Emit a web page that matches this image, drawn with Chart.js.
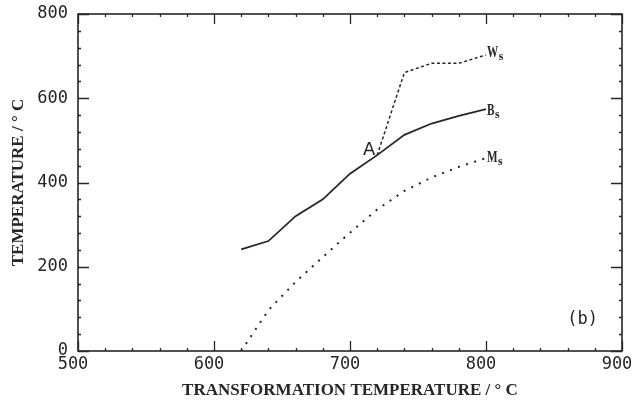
<!DOCTYPE html>
<html>
<head>
<meta charset="utf-8">
<script src="https://cdn.jsdelivr.net/npm/chart.js@4.4.1/dist/chart.umd.min.js"></script>
<style>
  html, body { margin: 0; padding: 0; background: #fff; }
  #wrap { width: 633px; height: 405px; position: relative; }
</style>
</head>
<body>
<div id="wrap"><canvas id="c"></canvas></div>
<script>
// Transformation temperature (°C) and the start temperatures of each product (°C)
const transformTemps  = [620, 640, 660, 680, 700, 720, 740, 760, 780, 800];
const bainiteStart    = [241, 261, 320, 360, 421, 465, 513, 540, 558, 574];
const martensiteStart = [0, 97, 164, 223, 281, 336, 380, 412, 437, 458];
const widmanTemps     = [720, 740, 760, 780, 800];
const widmanStart     = [465, 661, 683, 683, 703];

const xTicks = [500, 600, 700, 800, 900];
const yTicks = [0, 200, 400, 600, 800];

const seriesLabels = ['W', 'B', 'M'];   // drawn with subscript "s"
const pointLabel = 'A';
const panelLabel = '(b)';

const ink = '#262626';
const monoFont = 'DejaVu Sans Mono';
const serifFont = 'Liberation Serif';

const toPoints = (xs, ys) => xs.map((x, i) => ({ x, y: ys[i] }));

// Boxed frame with inward major/minor ticks on all four sides
const framePlugin = {
  id: 'frame',
  afterDatasetsDraw(chart) {
    const { ctx, chartArea: a, scales: { x, y } } = chart;
    ctx.save();
    ctx.strokeStyle = ink;
    ctx.lineWidth = 1.6;
    ctx.strokeRect(a.left, a.top, a.right - a.left, a.bottom - a.top);
    ctx.lineWidth = 1.3;
    ctx.beginPath();
    for (let v = x.min; v <= x.max + 1e-6; v += 20) {
      const px = Math.round(x.getPixelForValue(v)) + 0.5;
      const len = (v % 100 === 0) ? 10 : 3;
      ctx.moveTo(px, a.bottom); ctx.lineTo(px, a.bottom - len);
      ctx.moveTo(px, a.top);    ctx.lineTo(px, a.top + len);
    }
    for (let v = y.min; v <= y.max + 1e-6; v += 40) {
      const py = Math.round(y.getPixelForValue(v)) + 0.5;
      const len = (v % 200 === 0) ? 11 : 3;
      ctx.moveTo(a.left, py);  ctx.lineTo(a.left + len, py);
      ctx.moveTo(a.right, py); ctx.lineTo(a.right - len, py);
    }
    ctx.stroke();

    // x tick labels, set slightly left of their ticks
    ctx.fillStyle = ink;
    ctx.font = '17px "' + monoFont + '"';
    ctx.textAlign = 'center';
    ctx.textBaseline = 'top';
    x.ticks.forEach(t => {
      ctx.fillText(String(t.value), x.getPixelForValue(t.value) - 5, a.bottom + 5);
    });
    ctx.restore();
  }
};

// Curve names at the end of each curve, the point "A" and the panel tag
const labelPlugin = {
  id: 'curveLabels',
  afterDraw(chart) {
    const { ctx, chartArea: a, scales: { x, y } } = chart;
    const lift = [2, 6, 4];
    ctx.save();
    ctx.fillStyle = ink;
    ctx.textBaseline = 'alphabetic';
    ctx.textAlign = 'left';
    chart.data.datasets.forEach((ds, i) => {
      const last = ds.data[ds.data.length - 1];
      const px = x.getPixelForValue(last.x) + 1;
      const py = y.getPixelForValue(last.y) + lift[i];
      const letter = seriesLabels[i];
      ctx.save();
      ctx.translate(px, py);
      ctx.scale(0.7, 1);
      ctx.font = 'bold 16px "' + serifFont + '"';
      ctx.fillText(letter, 0, 0);
      const w = ctx.measureText(letter).width * 0.7;
      ctx.restore();
      ctx.save();
      ctx.translate(px + w + 0.5, py + 3);
      ctx.scale(0.9, 1);
      ctx.font = 'bold 13px "' + serifFont + '"';
      ctx.fillText('s', 0, 0);
      ctx.restore();
    });
    // "A" marks where the Widmanstätten curve leaves the bainite curve
    const start = chart.data.datasets[0].data[0];
    ctx.font = '18px "DejaVu Sans"';
    ctx.textAlign = 'right';
    ctx.fillText(pointLabel, x.getPixelForValue(start.x) - 2, y.getPixelForValue(start.y));
    // panel tag
    ctx.font = '17px "' + monoFont + '"';
    ctx.textAlign = 'right';
    ctx.fillText(panelLabel, a.right - 24, a.bottom - 27);
    ctx.restore();
  }
};

new Chart(document.getElementById('c'), {
  type: 'scatter',
  data: {
    datasets: [
      {
        label: 'Ws',
        data: toPoints(widmanTemps, widmanStart),
        showLine: true, borderColor: ink, borderWidth: 1.5,
        borderDash: [3, 2.5], pointRadius: 0, tension: 0
      },
      {
        label: 'Bs',
        data: toPoints(transformTemps, bainiteStart),
        showLine: true, borderColor: ink, borderWidth: 1.8,
        pointRadius: 0, tension: 0
      },
      {
        label: 'Ms',
        data: toPoints(transformTemps, martensiteStart),
        showLine: true, borderColor: ink, borderWidth: 2,
        borderDash: [2, 6.5], pointRadius: 0, tension: 0
      }
    ]
  },
  options: {
    responsive: true,
    maintainAspectRatio: false,
    animation: false,
    devicePixelRatio: 1,
    layout: { padding: { top: 14, right: 11, bottom: 0, left: 0 } },
    plugins: { legend: { display: false }, tooltip: { enabled: false } },
    scales: {
      x: {
        type: 'linear',
        min: xTicks[0], max: xTicks[xTicks.length - 1],
        ticks: { stepSize: xTicks[1] - xTicks[0], display: false },
        grid: { display: false, drawTicks: false },
        border: { display: false },
        title: {
          display: true, text: 'TRANSFORMATION TEMPERATURE / ° C', color: ink,
          font: { family: serifFont, size: 17, weight: 'bold' },
          padding: { top: 4, bottom: 4 }
        },
        afterFit(s) { s.height = 54; s.paddingLeft = 0; s.paddingRight = 0; }
      },
      y: {
        type: 'linear',
        min: yTicks[0], max: yTicks[yTicks.length - 1],
        ticks: {
          stepSize: yTicks[1] - yTicks[0], autoSkip: false,
          color: ink, padding: 10, font: { family: monoFont, size: 17 }
        },
        grid: { display: false, drawTicks: false },
        border: { display: false },
        title: {
          display: true, text: 'TEMPERATURE / ° C', color: ink,
          font: { family: serifFont, size: 17, weight: 'bold' },
          padding: { top: 8, bottom: 4 }
        },
        afterFit(s) { s.width = 78; s.paddingTop = 0; s.paddingBottom = 0; }
      }
    }
  },
  plugins: [framePlugin, labelPlugin]
});
</script>
</body>
</html>
